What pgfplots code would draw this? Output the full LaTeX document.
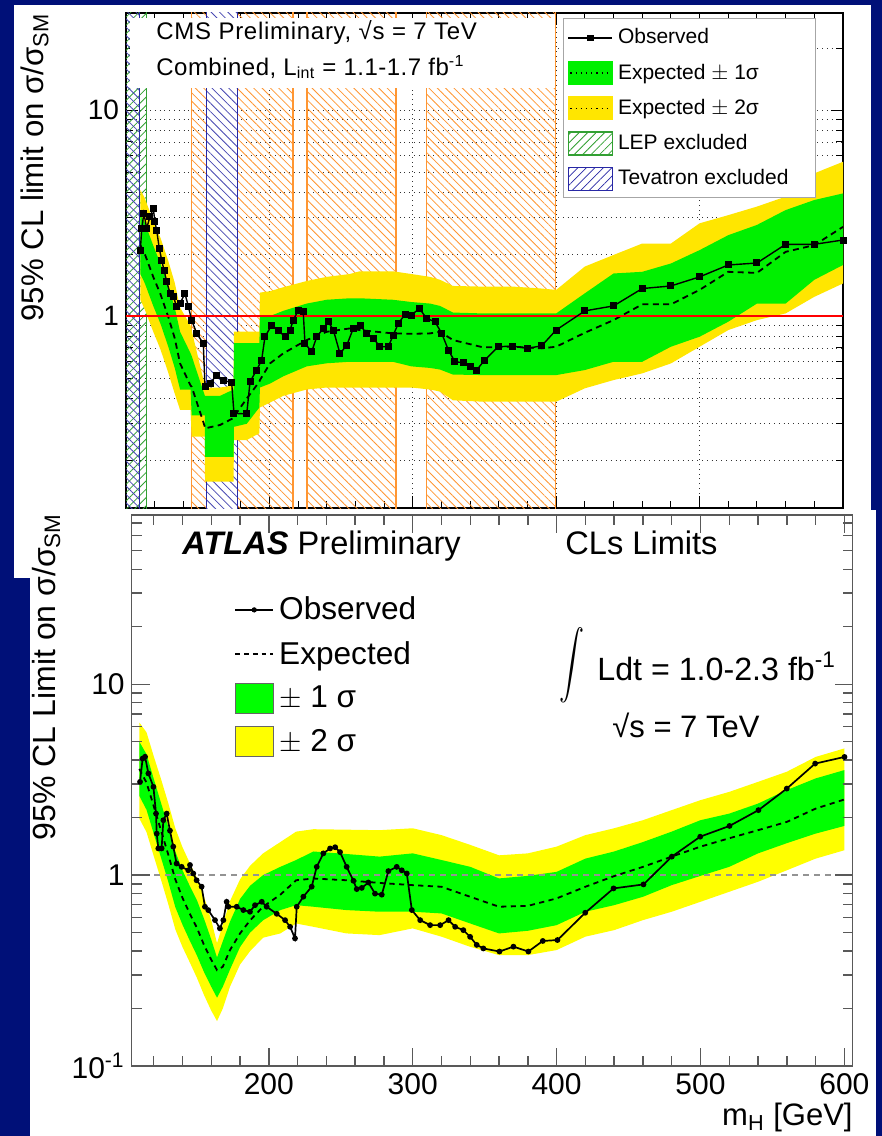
\documentclass[border=0pt]{standalone}
\usepackage{pgfplots}
\pgfplotsset{compat=1.18}
\usepackage{pgfplotstable}
\usepackage{graphicx}
\usetikzlibrary{patterns.meta}
\usepackage{fontspec}
\setmainfont{Liberation Sans}

\definecolor{navy}{RGB}{0,16,120}
\definecolor{cmsgreen}{RGB}{0,240,0}
\definecolor{cmsyellow}{RGB}{255,230,0}
\definecolor{cmsorange}{RGB}{255,150,50}
\definecolor{tevblue}{RGB}{40,40,165}
\definecolor{lepgreen}{RGB}{50,160,50}
\definecolor{agreen}{RGB}{0,255,0}
\definecolor{ayellow}{RGB}{255,255,0}

% CMS expected limit and bands
\pgfplotstableread{
m y2d g1d exp g1u y2u
110 1.20 1.60 2.21 3.10 4.10
113 1.08 1.45 2.01 2.85 3.75
119 0.84 1.12 1.55 2.20 2.90
124 0.69 0.92 1.28 1.80 2.40
129.5 0.53 0.71 0.99 1.40 1.85
134 0.42 0.56 0.78 1.10 1.45
137.7 0.35 0.44 0.589 0.84 1.10
145 0.35 0.44 0.46 0.66 0.90
145.8 0.26 0.33 0.454 0.64 0.85
155 0.26 0.33 0.29 0.41 0.46
155.1 0.157 0.207 0.285 0.41 0.45
165.6 0.157 0.207 0.296 0.41 0.45
175 0.157 0.207 0.32 0.44 0.46
175.3 0.25 0.29 0.325 0.74 0.84
184.2 0.25 0.30 0.398 0.74 0.84
193 0.27 0.36 0.48 0.74 0.84
193.4 0.36 0.45 0.489 0.99 1.30
200.4 0.38 0.47 0.589 1.00 1.32
209.7 0.41 0.51 0.659 1.06 1.38
226 0.44 0.57 0.765 1.15 1.48
240 0.45 0.59 0.839 1.20 1.55
256 0.45 0.60 0.871 1.22 1.60
263 0.45 0.60 0.855 1.22 1.65
286 0.45 0.60 0.824 1.20 1.65
299 0.45 0.57 0.82 1.17 1.60
312 0.44 0.56 0.824 1.15 1.55
319 0.43 0.55 0.839 1.12 1.50
328 0.39 0.52 0.765 1.04 1.40
349 0.384 0.517 0.705 1.03 1.39
370 0.384 0.517 0.71 1.03 1.39
390 0.384 0.517 0.697 1.03 1.36
400 0.384 0.517 0.71 1.03 1.34
420 0.446 0.547 0.83 1.29 1.74
440 0.489 0.600 0.956 1.61 1.98
460 0.527 0.600 1.14 1.64 2.25
480 0.589 0.710 1.14 1.80 2.25
500 0.710 0.794 1.34 2.09 2.82
520 0.855 0.939 1.64 2.47 3.09
540 0.956 1.15 1.62 2.77 3.40
560 1.03 1.15 2.05 3.27 3.80
580 1.24 1.50 2.21 3.66 4.93
600 1.44 1.77 2.71 3.94 5.61
}\cmsband

% CMS observed limit
\pgfplotstableread{
m v
110 2.09
111 2.67
112.5 3.15
114.4 2.67
116.7 3.03
119 3.33
120.2 2.87
121.4 2.61
123.2 2.13
124.9 1.87
126.5 1.67
128.4 1.47
130.7 1.29
133 1.24
135.4 1.11
137.7 1.15
141.1 1.29
143.5 1.11
145.8 0.956
149.3 0.824
153.9 0.737
155.1 0.454
158.6 0.471
163.2 0.517
167.9 0.489
173.7 0.474
175.3 0.337
184.2 0.335
186.5 0.480
191.1 0.547
194.6 0.611
196.9 0.793
201.6 0.904
206.2 0.855
210.9 0.793
214.4 0.855
216.7 0.956
220.2 1.07
223.6 1.05
224.8 0.737
229.5 0.671
233 0.793
237.6 0.871
241.1 0.938
244.6 0.855
249.2 0.659
253.9 0.72
258.5 0.871
263.2 0.904
267.8 0.824
272.5 0.779
277.1 0.710
282.9 0.710
286.4 0.809
289.9 0.921
294.6 1.02
299.2 1.01
304.5 1.09
309.7 0.974
315.5 0.938
320.2 0.824
324.8 0.684
329.4 0.600
335.2 0.594
339.9 0.567
344.6 0.547
349.7 0.607
359.6 0.710
369.7 0.715
379.8 0.697
389.9 0.717
399.9 0.855
420 1.06
440 1.12
460 1.36
480 1.40
500 1.55
520 1.77
540 1.81
560 2.23
580 2.23
600 2.34
}\cmsobs

% ATLAS expected limit and bands
\pgfplotstableread{
m y2d g1d exp g1u y2u
110 1.98 2.60 3.60 5.00 6.30
115 1.68 2.20 3.05 4.30 5.60
120 1.26 1.65 2.30 3.20 4.20
125 0.95 1.24 1.72 2.40 3.20
130 0.71 0.93 1.29 1.80 2.40
135 0.52 0.68 0.95 1.33 1.76
140 0.42 0.55 0.76 1.06 1.40
145 0.35 0.455 0.63 0.88 1.16
150 0.29 0.38 0.53 0.74 0.97
155 0.235 0.31 0.43 0.59 0.77
160 0.195 0.26 0.36 0.46 0.58
164 0.172 0.228 0.318 0.37 0.44
168 0.20 0.26 0.331 0.45 0.55
173 0.26 0.32 0.405 0.57 0.73
180 0.34 0.42 0.495 0.75 0.95
187 0.40 0.50 0.58 0.88 1.12
196 0.47 0.58 0.683 1.00 1.30
208 0.495 0.656 0.79 1.105 1.49
219 0.558 0.696 0.94 1.20 1.69
231 0.536 0.683 0.96 1.33 1.74
254 0.495 0.656 0.94 1.29 1.73
277 0.485 0.643 0.91 1.25 1.72
300 0.526 0.643 0.886 1.30 1.76
320 0.476 0.630 0.869 1.20 1.62
340 0.421 0.558 0.77 1.105 1.44
360 0.381 0.495 0.683 0.961 1.27
380 0.381 0.511 0.69 0.991 1.30
400 0.405 0.547 0.755 1.04 1.41
420 0.476 0.643 0.869 1.22 1.62
440 0.515 0.696 0.988 1.33 1.76
460 0.581 0.77 1.105 1.49 1.94
480 0.643 0.886 1.25 1.69 2.19
500 0.725 0.991 1.41 1.94 2.47
520 0.818 1.105 1.56 2.10 2.73
540 0.923 1.30 1.72 2.37 3.08
560 1.06 1.47 1.90 2.79 3.48
580 1.22 1.65 2.23 3.21 4.16
600 1.35 1.81 2.49 3.55 4.61
}\atlasband

% ATLAS observed limit
\pgfplotstableread{
m v
110.5 3.08
112.3 4.08
114 4.17
116.3 3.41
119.8 2.90
121.6 2.10
122.1 1.65
123.2 1.38
125.5 1.38
126.7 1.94
129 2.10
131.3 1.71
133.6 1.41
135.9 1.15
139.4 1.105
144 1.06
145.2 1.13
147.5 1.02
149.8 0.94
153.3 0.87
155.6 0.683
157.9 0.656
162.6 0.581
166 0.526
168.4 0.581
170.7 0.725
171.9 0.683
177.7 0.683
182.3 0.656
186.9 0.643
190.4 0.696
195.1 0.725
198.5 0.683
205.5 0.627
211.3 0.581
214.8 0.536
218.2 0.466
219.4 0.683
224 0.771
229.8 0.87
233.3 1.105
237.9 1.30
242.6 1.38
246.1 1.40
249.5 1.32
254.1 1.105
258.8 0.934
261.1 0.845
264.6 0.857
269.2 0.915
273.8 0.80
278.5 0.79
283.1 1.05
288.9 1.105
292.4 1.06
295.9 1.02
299.4 0.656
305.2 0.581
312.1 0.547
319.1 0.547
324.9 0.581
329.5 0.536
335.2 0.515
339.9 0.475
344.5 0.431
349.1 0.413
360.3 0.398
370 0.422
380.4 0.398
390.4 0.452
400.6 0.457
419.9 0.635
439.6 0.852
460.4 0.894
480.1 1.25
499.8 1.59
520.2 1.81
540.3 2.19
560 2.84
579.7 3.84
600.1 4.16
}\atlasobs

% closed outlines of the bands: upper edge forward, lower edge back
\pgfplotstablesort[sort key=m, sort cmp=float <]{\cmspoly}{\cmsband}
\pgfplotstablesort[sort key=m, sort cmp=float >]{\cmsrev}{\cmsband}
\pgfplotstablecreatecol[copy=y2u]{yp}{\cmspoly}
\pgfplotstablecreatecol[copy=g1u]{gp}{\cmspoly}
\pgfplotstablecreatecol[copy=y2d]{yp}{\cmsrev}
\pgfplotstablecreatecol[copy=g1d]{gp}{\cmsrev}
\pgfplotstablevertcat{\cmspoly}{\cmsrev}

\pgfplotstablesort[sort key=m, sort cmp=float <]{\atlaspoly}{\atlasband}
\pgfplotstablesort[sort key=m, sort cmp=float >]{\atlasrev}{\atlasband}
\pgfplotstablecreatecol[copy=y2u]{yp}{\atlaspoly}
\pgfplotstablecreatecol[copy=g1u]{gp}{\atlaspoly}
\pgfplotstablecreatecol[copy=y2d]{yp}{\atlasrev}
\pgfplotstablecreatecol[copy=g1d]{gp}{\atlasrev}
\pgfplotstablevertcat{\atlaspoly}{\atlasrev}

\begin{document}
\begin{tikzpicture}
\fill[navy] (0pt,0pt) rectangle (441pt,-568pt);
\fill[white] (7pt,-2.5pt) rectangle (435.5pt,-289pt);

% ---------------- CMS ----------------
\begin{axis}[
  at={(63pt,-254pt)}, anchor=south west, scale only axis,
  width=358.5pt, height=247.5pt,
  xmin=100, xmax=600, ymode=log, ymin=0.117, ymax=29.6,
  xtick={200,300,400,500,600}, xticklabels={},
  minor xtick={120,140,...,580},
  ytick={1,10}, yticklabels={1,10},
  minor ytick={0.2,0.3,0.4,0.5,0.6,0.7,0.8,0.9,2,3,4,5,6,7,8,9,20},
  xmajorgrids, ymajorgrids, yminorgrids,
  major grid style={black!80, dotted, line width=0.45pt},
  minor grid style={black!80, dotted, line width=0.45pt},
  axis line style={black, line width=0.8pt},
  tick style={black, line width=0.5pt},
  major tick length=6pt, minor tick length=3.5pt,
  yticklabel style={font=\fontsize{14}{14}\selectfont},
  legend style={at={(0.9623,0.9899)}, anchor=north east, draw=gray!70, line width=0.5pt,
    fill=white, font=\fontsize{10.5}{12}\selectfont, row sep=5.5pt,
    inner xsep=2pt, inner ysep=3.6pt, nodes={inner xsep=2.5pt, inner ysep=1.5pt}},
  legend cell align=left,
]
% excluded regions
\addplot[forget plot, draw=cmsorange, line width=0.6pt,
  pattern={Lines[angle=-45,distance=2.95pt,line width=0.4pt]}, pattern color=cmsorange]
  coordinates {(145.6,0.05) (145.6,100) (216.5,100) (216.5,0.05)} -- cycle;
\addplot[forget plot, draw=cmsorange, line width=0.6pt,
  pattern={Lines[angle=-45,distance=2.95pt,line width=0.4pt]}, pattern color=cmsorange]
  coordinates {(226.2,0.05) (226.2,100) (288.3,100) (288.3,0.05)} -- cycle;
\addplot[forget plot, draw=cmsorange, line width=0.6pt,
  pattern={Lines[angle=-45,distance=2.95pt,line width=0.4pt]}, pattern color=cmsorange]
  coordinates {(309.6,0.05) (309.6,100) (399.6,100) (399.6,0.05)} -- cycle;
\addplot[forget plot, draw=tevblue, line width=0.6pt, preaction={fill=white},
  pattern={Lines[angle=-45,distance=2.95pt,line width=0.4pt]}, pattern color=tevblue!85]
  coordinates {(156.2,0.05) (156.2,100) (177.5,100) (177.5,0.05)} -- cycle;
\addplot[forget plot, draw=lepgreen, line width=0.6pt,
  pattern={Lines[angle=45,distance=2.95pt,line width=0.4pt]}, pattern color=lepgreen]
  coordinates {(99,0.05) (99,100) (114.4,100) (114.4,0.05)} -- cycle;
\addplot[forget plot, draw=tevblue, line width=0.6pt,
  pattern={Lines[angle=-45,distance=2.95pt,line width=0.4pt]}, pattern color=tevblue!85]
  coordinates {(99,0.05) (99,100) (109.3,100) (109.3,0.05)} -- cycle;
% white box behind the title text
\addplot[forget plot, fill=white, draw=none]
  coordinates {(102.8,12.8) (102.8,28.0) (399.3,28.0) (399.3,12.8)} -- cycle;
% bands
\addplot[forget plot, fill=cmsyellow, draw=none] table[x=m,y=yp]{\cmspoly} -- cycle;
\addplot[forget plot, fill=cmsgreen, draw=none] table[x=m,y=gp]{\cmspoly} -- cycle;
\addplot[forget plot, black, line width=0.9pt, dash pattern=on 3pt off 2.2pt]
  table[x=m,y=exp]{\cmsband};
\addplot[forget plot, red, line width=1.3pt] coordinates {(100,1) (600,1)};
\addplot[forget plot, black, line width=0.7pt, mark=square*, mark size=1.4pt]
  table[x=m,y=v]{\cmsobs};
% legend
\addlegendimage{legend image code/.code={
  \draw[black, line width=0.7pt] (0pt,0pt) -- (22pt,0pt);
  \fill[black] (9.6pt,-1.4pt) rectangle (12.4pt,1.4pt);}}
\addlegendentry{Observed}
\addlegendimage{legend image code/.code={
  \fill[cmsgreen] (0pt,-5.75pt) rectangle (22pt,5.75pt);
  \draw[black, dotted, line width=0.6pt] (1pt,0pt) -- (21pt,0pt);}}
\addlegendentry{Expected $\pm$ 1σ}
\addlegendimage{legend image code/.code={
  \fill[cmsyellow] (0pt,-5.75pt) rectangle (22pt,5.75pt);
  \draw[black, dotted, line width=0.6pt] (1pt,0pt) -- (21pt,0pt);}}
\addlegendentry{Expected $\pm$ 2σ}
\addlegendimage{legend image code/.code={
  \draw[draw=lepgreen, line width=0.6pt, pattern={Lines[angle=45,distance=3pt,line width=0.4pt]},
    pattern color=lepgreen] (0pt,-5.75pt) rectangle (22pt,5.75pt);}}
\addlegendentry{LEP excluded}
\addlegendimage{legend image code/.code={
  \draw[draw=tevblue, line width=0.6pt, pattern={Lines[angle=45,distance=3pt,line width=0.4pt]},
    pattern color=tevblue] (0pt,-5.75pt) rectangle (22pt,5.75pt);}}
\addlegendentry{Tevatron excluded\hspace*{9pt}}
\end{axis}

\node[inner sep=0pt, anchor=base west, font=\fontsize{12}{12}\selectfont\addfontfeature{LetterSpace=3}]
  at (78pt,-19.5pt) {CMS Preliminary, √s = 7 TeV};
\node[inner sep=0pt, anchor=base west, font=\fontsize{12}{12}\selectfont\addfontfeature{LetterSpace=2}]
  at (78pt,-37.5pt) {Combined, L\textsubscript{int} = 1.1-1.7 fb\textsuperscript{-1}};
\node[inner sep=0pt, rotate=90, anchor=base east, font=\fontsize{15.6}{15.6}\selectfont]
  at (21.5pt,-6.5pt) {95\% CL limit on σ/σ\textsubscript{SM}};

% ---------------- ATLAS ----------------
\fill[white] (15pt,-255pt) rectangle (438pt,-568pt);
\begin{axis}[
  at={(65.85pt,-533pt)}, anchor=south west, scale only axis,
  width=360.5pt, height=275.5pt,
  xmin=104.7, xmax=605.8, ymode=log, ymin=0.1, ymax=77,
  xtick={200,300,400,500,600}, xticklabels={200,300,400,500,600},
  minor xtick={120,140,...,580},
  ytick={0.1,1,10}, yticklabels={10\textsuperscript{-1},1,10},
  minor ytick={0.2,0.3,0.4,0.5,0.6,0.7,0.8,0.9,2,3,4,5,6,7,8,9,20,30,40,50,60,70},
  axis line style={black!65, line width=0.7pt},
  tick style={black!65, line width=0.7pt},
  major tick length=9pt, minor tick length=5pt,
  ticklabel style={font=\fontsize{15}{15}\selectfont},
  axis on top,
  legend style={at={(0.1419,0.8575)}, anchor=north west, draw=none, fill=none,
    font=\fontsize{15.8}{17.5}\selectfont, row sep=6.2pt, inner sep=0pt,
    nodes={inner xsep=2.6pt, inner ysep=1.5pt}},
  legend cell align=left,
]
\addplot[forget plot, fill=ayellow, draw=none] table[x=m,y=yp]{\atlaspoly} -- cycle;
\addplot[forget plot, fill=agreen, draw=none] table[x=m,y=gp]{\atlaspoly} -- cycle;
\addplot[forget plot, gray!85, line width=1.2pt, dash pattern=on 3pt off 2.5pt]
  coordinates {(105,1) (596,1)};
\addplot[forget plot, black, line width=0.9pt, dash pattern=on 2.6pt off 2.2pt]
  table[x=m,y=exp]{\atlasband};
\addplot[forget plot, black, line width=0.85pt, mark=*, mark size=1pt]
  table[x=m,y=v]{\atlasobs};
\addlegendimage{legend image code/.code={
  \draw[black, line width=0.8pt] (0pt,0pt) -- (19pt,0pt);
  \fill[black] (9.5pt,0pt) circle (1.1pt);}}
\addlegendentry{Observed}
\addlegendimage{legend image code/.code={
  \draw[black, line width=0.8pt, dash pattern=on 2.4pt off 2pt] (0pt,0pt) -- (19pt,0pt);}}
\addlegendentry{Expected}
\addlegendimage{legend image code/.code={
  \draw[fill=agreen, draw=black!60, line width=0.6pt] (0pt,-7.5pt) rectangle (19pt,7.5pt);}}
\addlegendentry{$\pm$ 1 σ}
\addlegendimage{legend image code/.code={
  \draw[fill=ayellow, draw=black!60, line width=0.6pt] (0pt,-7.5pt) rectangle (19pt,7.5pt);}}
\addlegendentry{$\pm$ 2 σ}
\end{axis}

\node[inner sep=0pt, anchor=base west, font=\fontsize{16.3}{16.3}\selectfont]
  at (91pt,-277pt) {\textbf{\textit{ATLAS}} Preliminary};
\node[inner sep=0pt, anchor=base west, font=\fontsize{16.3}{16.3}\selectfont]
  at (282.5pt,-277pt) {CLs Limits};
\node[inner sep=0pt, font=\fontsize{31}{31}\selectfont] at (286pt,-332.5pt)
  {\scalebox{1.25}[1.7]{$\displaystyle\int$}};
\node[inner sep=0pt, anchor=base west, font=\fontsize{16.1}{16.1}\selectfont]
  at (298.5pt,-340pt) {Ldt = 1.0-2.3 fb\textsuperscript{-1}};
\node[inner sep=0pt, anchor=base west, font=\fontsize{15.5}{15.5}\selectfont]
  at (306pt,-368.5pt) {√s = 7 TeV};
\node[inner sep=0pt, rotate=90, anchor=base east, font=\fontsize{16}{16}\selectfont]
  at (27.5pt,-256.5pt) {95\% CL Limit on σ/σ\textsubscript{SM}};
\node[inner sep=0pt, anchor=base east, font=\fontsize{15.5}{15.5}\selectfont]
  at (426.5pt,-562.5pt) {m\textsubscript{H} [GeV]};
\pgfresetboundingbox
\path[use as bounding box] (0pt,0pt) rectangle (441pt,-568pt);
\end{tikzpicture}
\end{document}
